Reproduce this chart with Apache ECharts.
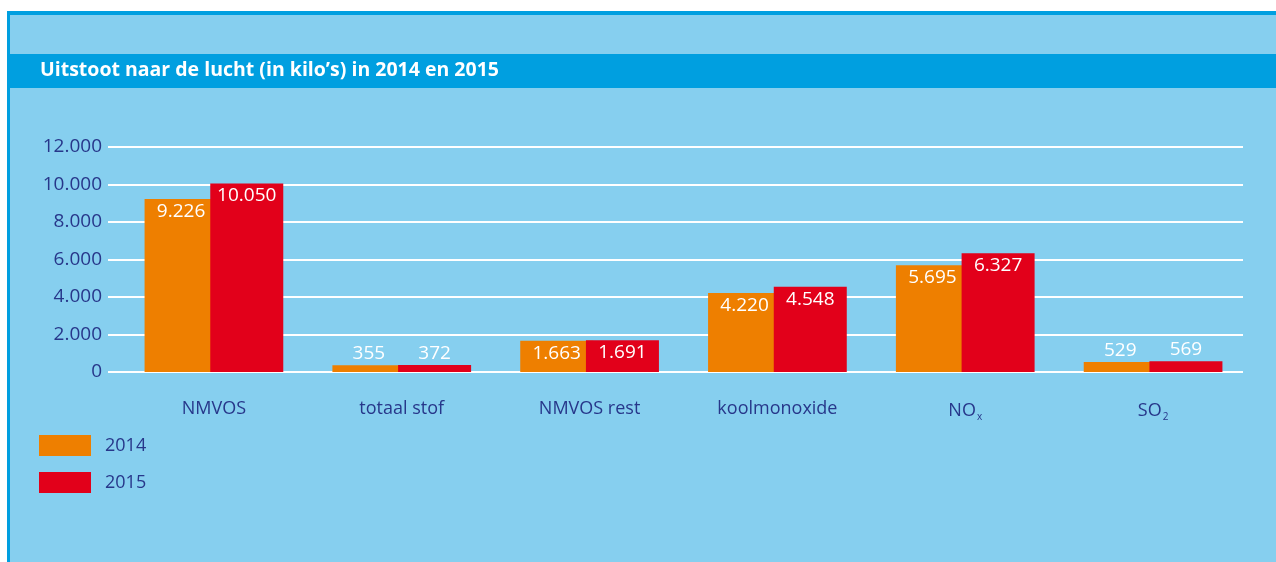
<!DOCTYPE html>
<html lang="nl">
<head>
    <meta charset="UTF-8">
    <title>Uitstoot naar de lucht</title>
    <style>
        html, body { margin: 0; padding: 0; background: #fff; }
        #box { width: 1276px; height: 562px; }
    </style>
</head>
<body>
    <div id="box"></div>
    <script src="https://cdn.jsdelivr.net/npm/echarts@6/dist/echarts.min.js"></script>
    <script>
        // data
        var categories = ['NMVOS', 'totaal stof', 'NMVOS rest', 'koolmonoxide', 'NOx', 'SO2'];
        var seriesNames = ['2014', '2015'];
        var values2014 = [9226, 355, 1663, 4220, 5695, 529];
        var values2015 = [10050, 372, 1691, 4548, 6327, 569];
        var yTicks = [0, 2000, 4000, 6000, 8000, 10000, 12000];

        var navy = '#27378a';
        var orange = '#ee7f00';
        var red = '#e2001a';

        // 12000 -> 12.000
        function nl(v) {
            return String(v).replace(/\B(?=(\d{3})+(?!\d))/g, '.');
        }

        function barData(vals) {
            return vals.map(function (v) {
                // kleine staven: label boven de staaf
                return {
                    value: v,
                    label: v < 1000 ? { position: 'top', distance: 2 } : {}
                };
            });
        }

        var myChart = echarts.init(document.getElementById('box'));

        var option = {
            backgroundColor: '#ffffff',
            animation: false,
            graphic: [
                { type: 'rect', shape: { x: 7, y: 11, width: 1269, height: 551 }, style: { fill: '#009fe0' }, z: -10 },
                { type: 'rect', shape: { x: 10, y: 15, width: 1266, height: 547 }, style: { fill: '#86cfef' }, z: -9 },
                { type: 'rect', shape: { x: 10, y: 54, width: 1266, height: 34 }, style: { fill: '#009fe0' }, z: -8 },
                {
                    type: 'text', left: 40, top: 60,
                    style: {
                        text: 'Uitstoot naar de lucht (in kilo’s) in 2014 en 2015',
                        fill: '#ffffff', font: 'bold 19.5px "Open Sans"'
                    }
                }
            ],
            legend: {
                orient: 'vertical',
                left: 39,
                top: 435,
                padding: 0,
                itemWidth: 52,
                itemHeight: 21,
                itemGap: 16,
                icon: 'rect',
                data: seriesNames,
                textStyle: { color: navy, fontSize: 18, fontFamily: 'Open Sans', padding: [0, 0, 0, 9] }
            },
            grid: [
                { left: 120, right: 29, top: 147, height: 225 },
                { left: 108, right: 33, top: 147, height: 225 }
            ],
            xAxis: [
                {
                    type: 'category',
                    gridIndex: 0,
                    data: categories,
                    axisLine: { show: false },
                    axisTick: { show: false },
                    axisLabel: {
                        interval: 0,
                        margin: 28,
                        color: navy,
                        fontSize: 18,
                        fontFamily: 'Open Sans',
                        formatter: function (v) {
                            if (v === 'NOx') return '{a|NO}{s|x}';
                            if (v === 'SO2') return '{a|SO}{s|2}';
                            return '{a|' + v + '}';
                        },
                        rich: {
                            a: { color: navy, fontSize: 18, fontFamily: 'Open Sans' },
                            s: { color: navy, fontSize: 10, fontFamily: 'Open Sans', verticalAlign: 'bottom', padding: [12, 0, 0, 1] }
                        }
                    }
                },
                { type: 'value', gridIndex: 1, show: false }
            ],
            yAxis: [
                { type: 'value', gridIndex: 0, min: 0, max: 12000, show: false, splitLine: { show: false } },
                {
                    type: 'value',
                    gridIndex: 1,
                    min: yTicks[0],
                    max: yTicks[yTicks.length - 1],
                    interval: yTicks[1] - yTicks[0],
                    axisLine: { show: false },
                    axisTick: { show: false },
                    splitLine: { lineStyle: { color: '#ffffff', width: 2 } },
                    axisLabel: {
                        margin: 6,
                        color: navy,
                        fontSize: 19,
                        fontFamily: 'Open Sans',
                        formatter: nl
                    }
                }
            ],
            series: [
                {
                    name: seriesNames[0],
                    type: 'bar',
                    xAxisIndex: 0,
                    yAxisIndex: 0,
                    barWidth: 73,
                    barGap: '-10%',
                    itemStyle: { color: orange },
                    label: {
                        show: true, position: 'insideTop', distance: 3,
                        color: '#ffffff', fontSize: 19, fontFamily: 'Open Sans',
                        formatter: function (p) { return nl(p.value); }
                    },
                    data: barData(values2014)
                },
                {
                    name: seriesNames[1],
                    type: 'bar',
                    xAxisIndex: 0,
                    yAxisIndex: 0,
                    barWidth: 73,
                    barGap: '-10%',
                    itemStyle: { color: red },
                    label: {
                        show: true, position: 'insideTop', distance: 3,
                        color: '#ffffff', fontSize: 19, fontFamily: 'Open Sans',
                        formatter: function (p) { return nl(p.value); }
                    },
                    data: barData(values2015)
                }
            ]
        };

        myChart.setOption(option);

        window.addEventListener('resize', function () {
            myChart.resize();
        });
    </script>
</body>
</html>
